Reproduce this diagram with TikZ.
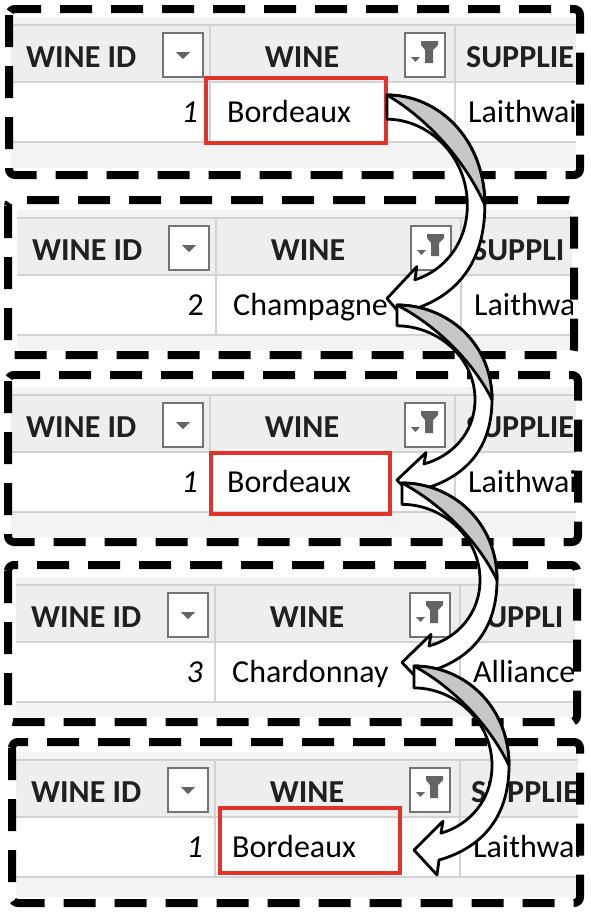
\documentclass[tikz,border=0pt]{standalone}
\usepackage{fontspec}
\setmainfont{Carlito}
\usetikzlibrary{calc}
\definecolor{hdrbg}{HTML}{EEEEEE}
\definecolor{tblbg}{HTML}{F3F3F3}
\definecolor{gridc}{HTML}{D2D2D2}
\definecolor{boxline}{HTML}{737373}
\definecolor{iconc}{HTML}{646464}
\definecolor{redline}{HTML}{E2332A}
\definecolor{shadec}{HTML}{C6C6C6}
\definecolor{txt}{HTML}{202020}
\tikzset{
 gridline/.style={draw=gridc, line width=1.5},
 headtext/.style={inner sep=0, text=txt, font=\fontsize{32pt}{38pt}\selectfont\bfseries},
 celltext/.style={inner sep=0, text=black, font=\fontsize{32pt}{38pt}\selectfont},
 ddbox/.style={draw=boxline, fill=white, line width=1.4, minimum width=40, minimum height=44, inner sep=0},
 dashframe/.style={draw=black, line width=8, dash pattern=on 32pt off 19pt, rounded corners=6},
 redbox/.style={draw=redline, line width=3.6, inner sep=0},
 arrowbody/.style={draw=black, fill=white, line width=2.8, line join=round},
 arrowshade/.style={draw=black, fill=shadec, line width=2.8, line join=round},
 bendarrow/.pic={
  \path[arrowbody] (0,22) .. controls (40,22) and (78,55) .. (78,100)
     .. controls (78,135) and (55,160) .. (27,168) -- (29,156) -- (0,185) -- (23,210) -- (25,195)
     .. controls (70,182) and (95,150) .. (95,100)
     .. controls (95,40) and (50,0) .. (0,0) -- cycle;
  \path[arrowshade] (0,0) .. controls (50,0) and (95,40) .. (95,100)
     .. controls (76,60) and (40,22) .. (0,0) -- cycle;
 }
}
% #1 name, #2 x, #3 y, #4 width, #5 bottom, #6 id, #7 wine, #8 supplier, header 3 via \SupHead
\newcommand\SupHead{SUPPLIE}
\newcommand\WineTable[8]{%
\begin{scope}[shift={(#2,#3)}]
 \begin{scope}
  \clip (0,-8) rectangle (#4,#5);
  \fill[tblbg] (0,-8) rectangle (#4,#5);
  \fill[hdrbg] (0,0) rectangle (#4,57);
  \fill[white] (0,57) rectangle (#4,117);
  \draw[gridline] (0,0) -- (#4,0) (0,57) -- (#4,57) (0,117) -- (#4,117);
  \draw[gridline] (199,0) -- (199,117) (444,0) -- (444,117);
  \node[headtext, anchor=base west] (#1-h1) at (15,42) {WINE ID};
  \node[headtext, anchor=base] (#1-h2) at (291,42) {WINE};
  \node[headtext, anchor=base west] (#1-h3) at (455,42) {\SupHead};
  \node[celltext, anchor=base east] (#1-id) at (187,97) {#6};
  \node[celltext, anchor=base west] (#1-wine) at (216,97) {#7};
  \node[celltext, anchor=base west] (#1-sup) at (457,97) {#8};
  \node[ddbox] (#1-dd) at (172,30) {};
  \node[ddbox] (#1-ft) at (414,30) {};
  \fill[iconc] ($(#1-dd.center)+(-7,-3)$) -- ++(14,0) -- ++(-7,7) -- cycle;
  \begin{scope}[shift={(#1-ft.center)}]
   \fill[iconc] (-4,-14) -- (13,-14) -- (13,-10) -- (8,-5) -- (8,8) -- (0,8) -- (0,-5) -- (-4,-10) -- cycle;
   \fill[iconc] (-14,2) -- (-5,2) -- (-9.5,7) -- cycle;
  \end{scope}
 \end{scope}
\end{scope}}
\begin{document}
\begin{tikzpicture}[x=1pt, y=-1pt]
\useasboundingbox (0,0) rectangle (591,916);
\fill[white] (0,0) rectangle (591,916);
% tables
\renewcommand\SupHead{SUPPLIE}
\WineTable{p1}{11}{25}{565}{143}{\itshape 1}{Bordeaux}{Laithwai}
\renewcommand\SupHead{SUPPLI}
\WineTable{p2}{17}{218}{555}{132}{2}{Champagne}{Laithwa}
\renewcommand\SupHead{SUPPLIE}
\WineTable{p3}{11}{395}{565}{142}{\itshape 1}{Bordeaux}{Laithwai}
\renewcommand\SupHead{SUPPLI}
\WineTable{p4}{16}{585}{559}{132}{\itshape 3}{Chardonnay}{Alliance}
\renewcommand\SupHead{SUPPLIE}
\WineTable{p5}{16}{760}{562}{137}{\itshape 1}{Bordeaux}{Laithwai}
% red highlight boxes
\node[redbox, minimum width=180, minimum height=65] (r1) at (296,110.5) {};
\node[redbox, minimum width=179, minimum height=61] (r3) at (300.5,483.5) {};
\node[redbox, minimum width=180, minimum height=65] (r5) at (310,840.5) {};
% dashed frames
\draw[dashframe] (9,9) rectangle (580,175);
\draw[dashframe] (8,200) rectangle (574,355);
\draw[dashframe] (8,375) rectangle (578,542);
\draw[dashframe] (8,565) rectangle (577,722);
\draw[dashframe] (12,742) rectangle (580,903);
% curved arrows
\coordinate (a1) at (387,95);
\coordinate (a2) at (397,305);
\coordinate (a3) at (402,483);
\coordinate (a4) at (414,666);
\pic[xscale=1.03, yscale=1.1] at (a1) {bendarrow};
\pic[yscale=0.946] at (a2) {bendarrow};
\pic[yscale=0.97] at (a3) {bendarrow};
\pic[yscale=0.995] at (a4) {bendarrow};
\end{tikzpicture}
\end{document}
